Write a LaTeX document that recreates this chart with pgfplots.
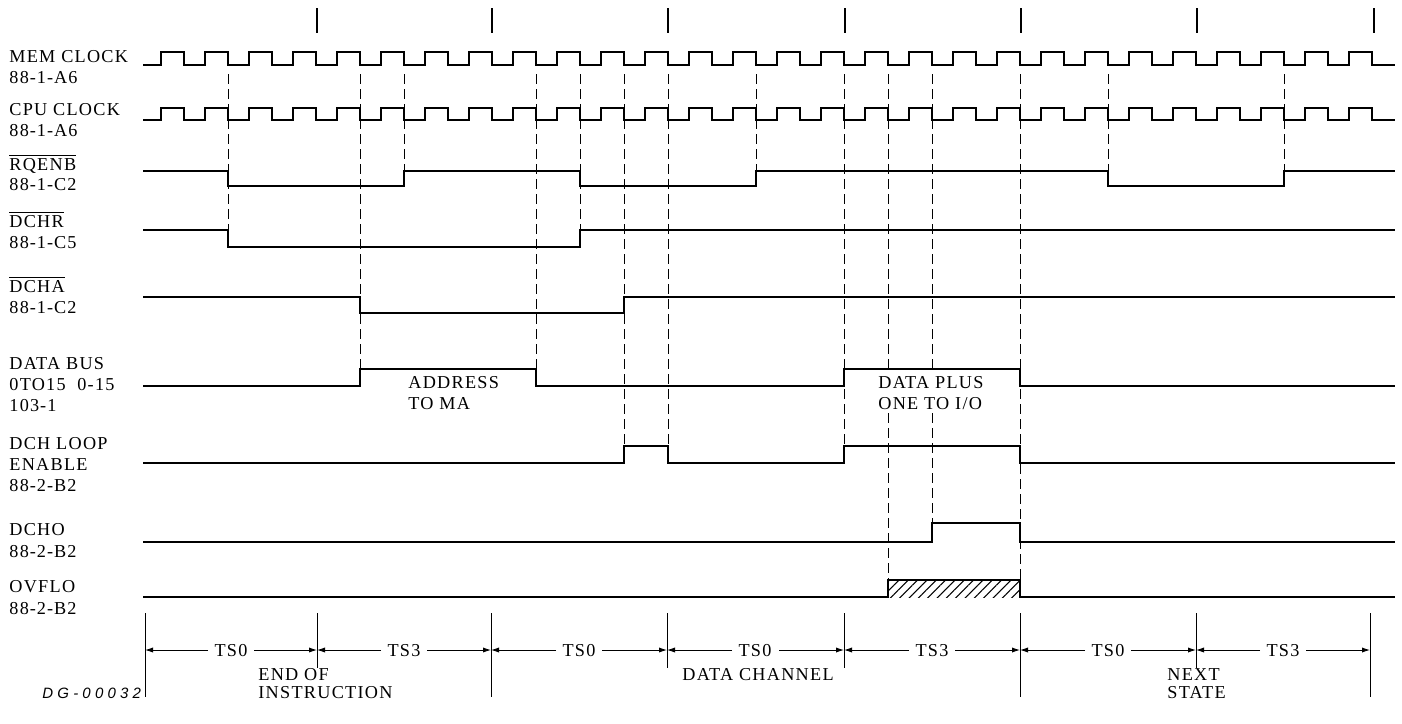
\documentclass[border=0pt]{standalone}
\usepackage{fontspec}
\usepackage{pgfplots}
\pgfplotsset{compat=1.18}
\usepackage{pgfplotstable}
\usetikzlibrary{patterns,patterns.meta,arrows.meta}
\newfontfamily\labfont{Liberation Serif}[LetterSpace=7]
\newfontfamily\dgfont{Liberation Sans}[LetterSpace=28]

\pgfplotstableread{
x mem cpu
143 65 120
161 52 108
184 65 120
205 52 108
228 65 120
249 52 108
272 65 120
293 52 108
316 65 120
337 52 108
360 65 120
381 52 108
404 65 120
425 52 108
448 65 120
469 52 108
492 65 120
513 52 108
536 65 120
557 52 108
580 65 120
601 52 108
624 65 120
645 52 108
668 65 120
689 52 108
712 65 120
733 52 108
756 65 120
777 52 108
800 65 120
821 52 108
844 65 120
865 52 108
888 65 120
909 52 108
932 65 120
953 52 108
976 65 120
997 52 108
1020 65 120
1041 52 108
1064 65 120
1085 52 108
1108 65 120
1129 52 108
1152 65 120
1173 52 108
1196 65 120
1217 52 108
1240 65 120
1261 52 108
1284 65 120
1305 52 108
1328 65 120
1349 52 108
1372 65 120
1395 65 120
}\clk

\newcommand{\lf}{\labfont\fontsize{9.1}{10}\selectfont}
\tikzset{
  lab/.style={anchor=base west, inner sep=0pt, font=\lf},
  labc/.style={anchor=base, inner sep=0pt, font=\lf},
  sig/.style={black, line width=1.25pt, const plot, line join=miter},
  dsh/.style={black, line width=0.45pt, dash pattern=on 5pt off 2.5pt},
  tsl/.style={black, line width=0.45pt},
  tsa/.style={black, line width=0.45pt, -{Latex[length=4pt,width=2.6pt]}},
}
\newcommand{\hy}{\kern0.5pt-\kern0.5pt}

\begin{document}
\begin{tikzpicture}
\begin{axis}[x=0.5pt, y=0.5pt, y dir=reverse, xmin=0, xmax=1402, ymin=0, ymax=723,
  hide axis, clip=false, scale only axis]
\addplot[draw=none] coordinates {(0,0) (1402,723)};

% top state ticks
\addplot[black, line width=1.4pt] coordinates {(317,8) (317,33)};
\addplot[black, line width=1.4pt] coordinates {(492,8) (492,33)};
\addplot[black, line width=1.4pt] coordinates {(668,8) (668,33)};
\addplot[black, line width=1.4pt] coordinates {(845,8) (845,33)};
\addplot[black, line width=1.4pt] coordinates {(1021,8) (1021,33)};
\addplot[black, line width=1.4pt] coordinates {(1197,8) (1197,33)};
\addplot[black, line width=1.4pt] coordinates {(1374,8) (1374,33)};

% clocks
\addplot[sig] table[x=x, y=mem] {\clk};
\addplot[sig] table[x=x, y=cpu] {\clk};

% dashed timing lines
\addplot[dsh] coordinates {(228,74) (228,247)};
\addplot[dsh] coordinates {(360,74) (360,369)};
\addplot[dsh] coordinates {(404,74) (404,171)};
\addplot[dsh] coordinates {(536,74) (536,369)};
\addplot[dsh] coordinates {(580,74) (580,230)};
\addplot[dsh] coordinates {(624,74) (624,446)};
\addplot[dsh] coordinates {(668,74) (668,446)};
\addplot[dsh] coordinates {(756,74) (756,171)};
\addplot[dsh] coordinates {(844,74) (844,446)};
\addplot[dsh] coordinates {(888,74) (888,373)};
\addplot[dsh] coordinates {(888,413) (888,580)};
\addplot[dsh] coordinates {(932,74) (932,373)};
\addplot[dsh] coordinates {(932,413) (932,523)};
\addplot[dsh] coordinates {(1020,74) (1020,580)};
\addplot[dsh] coordinates {(1108,74) (1108,171)};
\addplot[dsh] coordinates {(1284,74) (1284,171)};

% signals
\addplot[sig] coordinates {(143,171) (228,186) (404,171) (580,186) (756,171) (1108,186) (1284,171) (1395,171)};
\addplot[sig] coordinates {(143,230) (228,247) (580,230) (1395,230)};
\addplot[sig] coordinates {(143,297) (360,313) (624,297) (1395,297)};
\addplot[sig] coordinates {(143,386) (360,369) (536,386) (844,369) (1020,386) (1395,386)};
\addplot[sig] coordinates {(143,463) (624,446) (668,463) (844,446) (1020,463) (1395,463)};
\addplot[sig] coordinates {(143,542) (932,523) (1020,542) (1395,542)};
\addplot[draw=none, pattern={Lines[angle=45, distance=3.3pt, line width=0.55pt]}] coordinates {(888,597) (888,580) (1020,580) (1020,597)};
\addplot[sig] coordinates {(143,597) (888,580) (1020,597) (1395,597)};

% bottom state boundaries
\addplot[tsl] coordinates {(145,613) (145,697)};
\addplot[tsl] coordinates {(317,613) (317,668)};
\addplot[tsl] coordinates {(491,613) (491,697)};
\addplot[tsl] coordinates {(667,613) (667,668)};
\addplot[tsl] coordinates {(844,613) (844,668)};
\addplot[tsl] coordinates {(1020,613) (1020,697)};
\addplot[tsl] coordinates {(1196,613) (1196,668)};
\addplot[tsl] coordinates {(1370,613) (1370,697)};

% dimension arrows
\addplot[tsa] coordinates {(208,650) (145,650)};
\addplot[tsa] coordinates {(254,650) (317,650)};
\addplot[tsa] coordinates {(381,650) (317,650)};
\addplot[tsa] coordinates {(427,650) (491,650)};
\addplot[tsa] coordinates {(556,650) (491,650)};
\addplot[tsa] coordinates {(602,650) (667,650)};
\addplot[tsa] coordinates {(732,650) (667,650)};
\addplot[tsa] coordinates {(779,650) (844,650)};
\addplot[tsa] coordinates {(909,650) (844,650)};
\addplot[tsa] coordinates {(955,650) (1020,650)};
\addplot[tsa] coordinates {(1085,650) (1020,650)};
\addplot[tsa] coordinates {(1131,650) (1196,650)};
\addplot[tsa] coordinates {(1260,650) (1196,650)};
\addplot[tsa] coordinates {(1306,650) (1370,650)};

\node[labc] at (axis cs:231,656) {TS0};
\node[labc] at (axis cs:404,656) {TS3};
\node[labc] at (axis cs:579,656) {TS0};
\node[labc] at (axis cs:755,656) {TS0};
\node[labc] at (axis cs:932,656) {TS3};
\node[labc] at (axis cs:1108,656) {TS0};
\node[labc] at (axis cs:1283,656) {TS3};

% signal names
\node[lab] at (axis cs:9,62) {MEM CLOCK};
\node[lab] at (axis cs:9,83) {88\hy 1\hy A6};
\node[lab] at (axis cs:9,115) {CPU CLOCK};
\node[lab] at (axis cs:9,136) {88\hy 1\hy A6};
\node[lab] at (axis cs:9,170) {$\overline{\hbox{\lf RQENB}}$};
\node[lab] at (axis cs:9,190) {88\hy 1\hy C2};
\node[lab] at (axis cs:9,227) {$\overline{\hbox{\lf DCHR}}$};
\node[lab] at (axis cs:9,248) {88\hy 1\hy C5};
\node[lab] at (axis cs:9,292) {$\overline{\hbox{\lf DCHA}}$};
\node[lab] at (axis cs:9,313) {88\hy 1\hy C2};
\node[lab] at (axis cs:9,369) {DATA BUS};
\node[lab] at (axis cs:9,390) {0TO15\ \ 0-15};
\node[lab] at (axis cs:9,411) {103\hy 1};
\node[lab] at (axis cs:9,449) {DCH LOOP};
\node[lab] at (axis cs:9,470) {ENABLE};
\node[lab] at (axis cs:9,491) {88\hy 2\hy B2};
\node[lab] at (axis cs:9,535) {DCHO};
\node[lab] at (axis cs:9,557) {88\hy 2\hy B2};
\node[lab] at (axis cs:9,592) {OVFLO};
\node[lab] at (axis cs:9,614) {88\hy 2\hy B2};

% annotations
\node[lab] at (axis cs:408,388) {ADDRESS};
\node[lab] at (axis cs:408,409) {TO MA};
\node[lab] at (axis cs:878,388) {DATA PLUS};
\node[lab] at (axis cs:878,409) {ONE TO I/O};
\node[lab] at (axis cs:258,680) {END OF};
\node[lab] at (axis cs:258,698) {INSTRUCTION};
\node[labc] at (axis cs:758,680) {DATA CHANNEL};
\node[lab] at (axis cs:1167,680) {NEXT};
\node[lab] at (axis cs:1167,698) {STATE};
\node[anchor=base west, inner sep=0pt, font=\dgfont\itshape\fontsize{7.5}{9}\selectfont] at (axis cs:42,698) {DG-00032};
\end{axis}
\end{tikzpicture}
\end{document}
